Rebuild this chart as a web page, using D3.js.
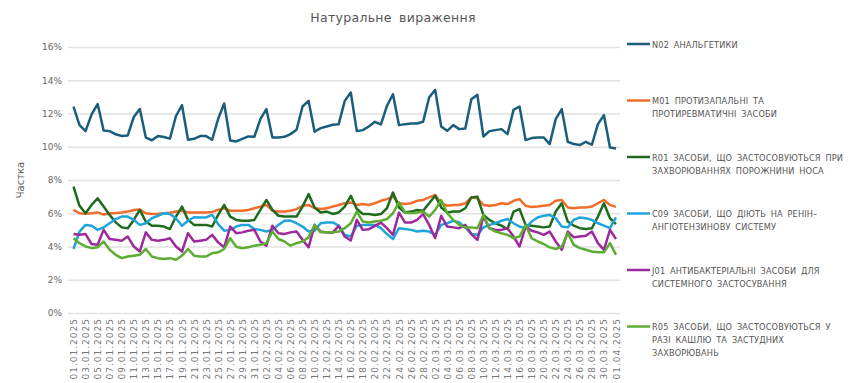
<!DOCTYPE html>
<html>
<head>
<meta charset="utf-8">
<script src="https://cdn.jsdelivr.net/npm/d3@7"></script>
<style>
  body { margin: 0; background: #fff; }
  text { font-family: "DejaVu Sans", Verdana, sans-serif; }
</style>
</head>
<body>
<div id="chart"></div>
<script>
// days shown on the x axis: 01.01.2025 .. 01.04.2025
var days = d3.timeDay.range(new Date(2025, 0, 1), new Date(2025, 3, 2));
var fmt = d3.timeFormat("%d.%m.%Y");
var dates = days.map(function(d) { return fmt(d); });

var yTicks = [0, 2, 4, 6, 8, 10, 12, 14, 16];

var codes = ["N02", "M01", "R01", "C09", "J01", "R05"];

var legendLines = [
    ["N02 АНАЛЬГЕТИКИ"],
    ["M01 ПРОТИЗАПАЛЬНІ ТА", "ПРОТИРЕВМАТИЧНІ ЗАСОБИ"],
    ["R01 ЗАСОБИ, ЩО ЗАСТОСОВУЮТЬСЯ ПРИ", "ЗАХВОРЮВАННЯХ ПОРОЖНИНИ НОСА"],
    ["C09 ЗАСОБИ, ЩО ДІЮТЬ НА РЕНІН–", "АНГІОТЕНЗИНОВУ СИСТЕМУ"],
    ["J01 АНТИБАКТЕРІАЛЬНІ ЗАСОБИ ДЛЯ", "СИСТЕМНОГО ЗАСТОСУВАННЯ"],
    ["R05 ЗАСОБИ, ЩО ЗАСТОСОВУЮТЬСЯ У", "РАЗІ КАШЛЮ ТА ЗАСТУДНИХ", "ЗАХВОРЮВАНЬ"]
];

var colors = ["#1b5e7b", "#f26c2a", "#1e6b1e", "#1ea5dc", "#9c2a9c", "#5cad32"];

var n02 = [12.42, 11.3, 10.94, 11.95, 12.57, 10.98, 10.94, 10.75, 10.65, 10.68,
    11.79, 12.27, 10.55, 10.39, 10.64, 10.59, 10.49, 11.85, 12.5, 10.42,
    10.48, 10.64, 10.64, 10.42, 11.68, 12.6, 10.38, 10.32, 10.47, 10.62,
    10.6, 11.66, 12.26, 10.56, 10.56, 10.6, 10.76, 11.02, 12.42, 12.76,
    10.9, 11.12, 11.22, 11.32, 11.36, 12.76, 13.26, 10.94, 11.0, 11.22,
    11.5, 11.34, 12.46, 13.16, 11.3, 11.36, 11.4, 11.4, 11.5, 12.96,
    13.42, 11.22, 10.96, 11.3, 11.06, 11.1, 12.86, 13.12, 10.62, 10.94,
    11.0, 11.06, 10.76, 12.22, 12.42, 10.4, 10.52, 10.56, 10.56, 10.16,
    11.66, 12.26, 10.3, 10.16, 10.1, 10.3, 10.12, 11.36, 11.9, 9.96,
    9.9];

var m01 = [6.2, 6.0, 5.97, 6.0, 6.05, 5.92, 5.98, 6.02, 6.05, 6.1,
    6.2, 6.22, 6.0, 5.95, 5.97, 6.0, 6.03, 6.1, 6.15, 6.05,
    6.05, 6.05, 6.05, 6.08, 6.2, 6.3, 6.15, 6.15, 6.15, 6.2,
    6.3, 6.4, 6.5, 6.15, 6.1, 6.1, 6.15, 6.25, 6.45, 6.5,
    6.3, 6.25, 6.3, 6.4, 6.5, 6.6, 6.65, 6.5, 6.55, 6.5,
    6.6, 6.75, 6.85, 7.0, 6.6, 6.55, 6.6, 6.75, 6.8, 6.95,
    7.1, 6.6, 6.45, 6.5, 6.5, 6.6, 6.95, 6.9, 6.5, 6.45,
    6.5, 6.6, 6.55, 6.75, 6.85, 6.45, 6.38, 6.4, 6.45, 6.5,
    6.75, 6.8, 6.35, 6.3, 6.35, 6.35, 6.4, 6.6, 6.8, 6.5,
    6.38];

var r01 = [7.6, 6.45, 6.0, 6.5, 6.9, 6.4, 5.9, 5.45, 5.15, 5.1,
    5.6, 6.2, 5.5, 5.25, 5.25, 5.2, 5.05, 5.8, 6.4, 5.6,
    5.3, 5.3, 5.3, 5.2, 5.9, 6.5, 5.8, 5.6, 5.55, 5.55,
    5.6, 6.2, 6.8, 6.2, 5.85, 5.8, 5.8, 5.8, 6.4, 7.15,
    6.35, 6.05, 6.1, 5.96, 6.05, 6.4, 7.05, 6.25, 5.96, 5.96,
    5.9, 5.95, 6.3, 7.25, 6.35, 6.05, 6.1, 6.2, 6.15, 6.6,
    7.05, 6.35, 6.05, 6.1, 6.1, 6.3, 6.95, 7.0, 5.9, 5.6,
    5.4, 5.25, 5.05, 6.1, 6.25, 5.3, 5.25, 5.2, 5.15, 5.2,
    6.1, 6.6, 5.5, 5.25, 5.1, 5.05, 5.1, 5.8, 6.6, 5.7,
    5.35];

var c09 = [3.85, 4.9, 5.3, 5.25, 5.0, 5.15, 5.4, 5.65, 5.8, 5.8,
    5.6, 5.3, 5.4, 5.7, 5.85, 6.0, 5.95, 5.7, 5.25, 5.55,
    5.76, 5.75, 5.75, 5.9, 5.35, 4.95, 5.0, 5.2, 5.3, 5.3,
    5.05, 5.0, 4.9, 5.0, 5.3, 5.55, 5.56, 5.4, 5.2, 4.9,
    4.95, 5.4, 5.45, 5.45, 5.25, 4.7, 4.6, 5.25, 5.3, 5.3,
    5.3, 5.1, 4.75, 4.45, 5.1, 5.05, 5.0, 4.9, 4.95, 4.9,
    4.7, 5.3, 5.4, 5.55, 5.45, 5.15, 4.75, 4.7, 5.15, 5.3,
    5.4, 5.55, 5.65, 5.4, 5.2, 5.1, 5.5, 5.75, 5.85, 5.9,
    5.7, 5.2, 5.15, 5.6, 5.75, 5.7, 5.6, 5.4, 5.25, 5.1,
    5.75];

var j01 = [4.75, 4.7, 4.75, 4.15, 4.1, 5.0, 4.45, 4.4, 4.35, 4.6,
    4.0, 3.7, 4.85, 4.4, 4.35, 4.4, 4.5, 4.0, 3.7, 4.8,
    4.3, 4.35, 4.4, 4.7, 4.25, 3.95, 5.2, 4.8, 4.85, 4.95,
    5.0, 4.3, 4.05, 5.25, 4.8, 4.75, 4.85, 4.9, 4.4, 3.95,
    5.3, 4.9, 4.85, 4.83, 5.24, 4.6, 4.36, 5.6, 5.0, 5.04,
    5.24, 5.44, 5.1, 4.7, 6.04, 5.44, 5.44, 5.6, 5.95, 5.3,
    4.5, 5.85, 5.2, 5.15, 5.1, 5.3, 4.75, 4.4, 5.8, 5.1,
    5.0, 5.0, 5.1, 4.6, 4.0, 5.2, 4.95, 4.85, 4.7, 4.9,
    4.3, 3.8, 4.9, 4.55, 4.6, 4.65, 4.9, 4.2, 3.8, 5.0,
    4.45];

var r05 = [4.5, 4.2, 4.0, 3.9, 3.95, 4.3, 3.8, 3.5, 3.3, 3.4,
    3.45, 3.5, 3.85, 3.4, 3.3, 3.25, 3.3, 3.2, 3.45, 3.85,
    3.45, 3.4, 3.4, 3.6, 3.65, 3.85, 4.5, 3.98, 3.9, 3.95,
    4.05, 4.1, 4.2, 4.9, 4.45, 4.3, 4.05, 4.2, 4.3, 4.55,
    5.3, 4.85, 4.85, 4.85, 4.9, 5.1, 5.4, 6.1, 5.5, 5.45,
    5.5, 5.55, 5.65, 6.0, 6.65, 6.05, 6.0, 6.05, 6.1, 5.8,
    6.2, 6.8, 6.0, 5.6, 5.3, 5.15, 5.15, 5.1, 5.9, 5.1,
    4.9, 4.8, 4.7, 4.5, 4.6, 5.3, 4.5, 4.3, 4.15, 3.95,
    3.85, 4.0, 4.8, 4.1, 3.9, 3.8, 3.7, 3.65, 3.65, 4.2,
    3.5];

var seriesValues = [n02, m01, r01, c09, j01, r05];

var svgW = 850;
var svgH = 383;

// plot box
var plot = {
        left: 68,
        right: 620,
        top: 47,
        bottom: 313
    };

var svg = d3.select("#chart")
    .append("svg")
    .attr("width", svgW)
    .attr("height", svgH);

var xScale = d3.scalePoint()
    .domain(dates)
    .range([73.5, 616]);

var yScale = d3.scaleLinear()
    .domain([0, 16])
    .range([plot.bottom, plot.top]);

// title
svg.append("text")
    .attr("x", 393)
    .attr("y", 22)
    .attr("text-anchor", "middle")
    .attr("font-size", 12.5)
    .attr("letter-spacing", 0.3)
    .attr("word-spacing", 3)
    .attr("fill", "#555")
    .text("Натуральне вираження");

// y grid + labels
var yAxis = d3.axisLeft(yScale)
    .tickValues(yTicks)
    .tickSize(-(plot.right - plot.left))
    .tickPadding(6)
    .tickFormat(function(d) { return d + "%"; });

var yG = svg.append("g")
    .attr("transform", "translate(" + plot.left + ",0)")
    .call(yAxis);
yG.select(".domain").remove();
yG.selectAll(".tick line")
    .attr("stroke", "#e2e2e2")
    .attr("stroke-width", 1.5);
yG.selectAll(".tick text")
    .attr("font-size", 9)
    .attr("fill", "#666")
    .attr("font-family", "DejaVu Sans");

svg.append("text")
    .attr("transform", "translate(24,180) rotate(-90)")
    .attr("text-anchor", "middle")
    .attr("font-size", 10)
    .attr("fill", "#666")
    .text("Частка");

// x labels, every second day
var xAxis = d3.axisBottom(xScale)
    .tickValues(dates.filter(function(d, i) { return i % 2 === 0; }))
    .tickSize(0)
    .tickPadding(0);

var xG = svg.append("g")
    .attr("transform", "translate(0," + plot.bottom + ")")
    .call(xAxis);
xG.select(".domain").remove();
xG.selectAll(".tick text")
    .attr("font-size", 9)
    .attr("letter-spacing", 1)
    .attr("fill", "#777")
    .attr("font-family", "DejaVu Sans")
    .attr("text-anchor", "end")
    .attr("dy", null)
    .attr("y", 0)
    .attr("transform", "translate(3,5) rotate(-90)");

// lines
var line = d3.line()
    .x(function(d, i) { return xScale(dates[i]); })
    .y(function(d) { return yScale(d); });

svg.append("g")
    .selectAll("path")
    .data(seriesValues)
    .enter()
    .append("path")
    .attr("d", line)
    .attr("fill", "none")
    .attr("stroke", function(d, i) { return colors[i]; })
    .attr("stroke-width", 2.5)
    .attr("stroke-linejoin", "round");

// legend
var leg = svg.append("g")
    .selectAll("g")
    .data(codes)
    .enter()
    .append("g")
    .attr("transform", function(d, i) { return "translate(627," + (44 + i * 56.5) + ")"; });

leg.append("line")
    .attr("x1", 0)
    .attr("x2", 23)
    .attr("stroke", function(d, i) { return colors[i]; })
    .attr("stroke-width", 2.5);

leg.each(function(d, i) {
    var g = d3.select(this);
    legendLines[i].forEach(function(t, j) {
        g.append("text")
            .attr("x", 25)
            .attr("y", 3.5 + j * 13)
            .attr("font-size", 8.2)
            .attr("letter-spacing", 0.15)
            .attr("word-spacing", 2)
            .attr("fill", "#555")
            .text(t);
    });
});
</script>
</body>
</html>
